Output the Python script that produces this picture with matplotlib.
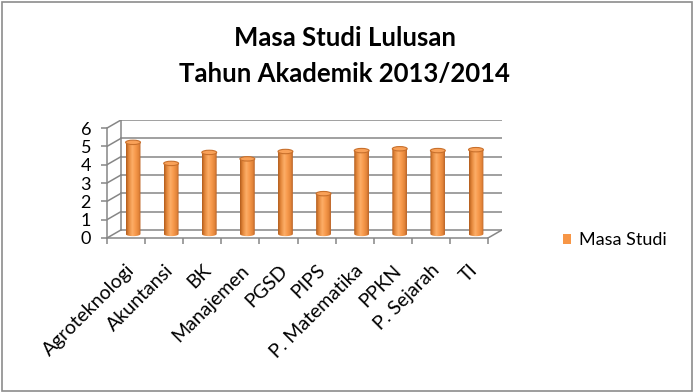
import numpy as np
import matplotlib
matplotlib.use('Agg')
import matplotlib.pyplot as plt
from matplotlib.colors import LinearSegmentedColormap
from matplotlib.patches import Ellipse, Patch, Rectangle
from matplotlib.path import Path
from matplotlib.patches import PathPatch

# data
prodi = ['Agroteknologi', 'Akuntansi', 'BK', 'Manajemen', 'PGSD', 'PIPS',
         'P. Matematika', 'PPKN', 'P. Sejarah', 'TI']
masa_studi = [5.0, 3.85, 4.45, 4.1, 4.5, 2.2, 4.55, 4.65, 4.55, 4.6]
y_ticks = [0, 1, 2, 3, 4, 5, 6]
series_name = 'Masa Studi'

plt.rcParams['font.family'] = ['Lato', 'DejaVu Sans']

fig = plt.figure(figsize=(6.94, 3.92), dpi=100)
# chart border
fig.patches.append(Rectangle((2 / 694, 1 / 392), 690 / 694, 389 / 392, transform=fig.transFigure,
                             fill=False, edgecolor='#8c8c8c', linewidth=1.2))

fig.text(0.497, 1 - 46 / 392, 'Masa Studi Lulusan', ha='center', va='baseline',
         fontsize=18.5, fontweight='bold')
fig.text(0.497, 1 - 82 / 392, 'Tahun Akademik 2013/2014', ha='center', va='baseline',
         fontsize=18.5, fontweight='bold')

ax = fig.add_axes([107 / 694, 1 - 238 / 392, 395 / 694, 118 / 392])
ax.patch.set_visible(False)

# fake 3d depth (in data units)
dx = 0.367
dy = 0.44
grid_col = '#868686'
n = len(prodi)
x0, x1 = -0.5, n - 0.5

# back wall + left wall lines
for v in y_ticks:
    ax.plot([x0 + dx, x1 + dx], [v + dy, v + dy], color=grid_col, lw=1.1, zorder=1)
    ax.plot([x0, x0 + dx], [v, v + dy], color=grid_col, lw=1.1, zorder=1)
ax.plot([x0 + dx, x0 + dx], [dy, y_ticks[-1] + dy], color=grid_col, lw=1.1, zorder=1)
# floor right edge
ax.plot([x1, x1 + dx], [0, dy], color=grid_col, lw=1.1, zorder=1)

# cylinder colours
cyl_cmap = LinearSegmentedColormap.from_list('cyl', [
    (0.0, '#b25c1c'), (0.18, '#e3873b'), (0.42, '#fdae68'),
    (0.62, '#f89b4e'), (0.85, '#e4853a'), (1.0, '#b9652a')])
grad = np.linspace(0, 1, 64)[None, :]

bar_w = 0.39
ell_h = 0.24
for i, v in enumerate(masa_studi):
    xc = i + dx / 2
    base = dy / 2
    top = v + dy / 2
    # body with rounded bottom
    t = np.linspace(np.pi, 2 * np.pi, 30)
    verts = list(zip(xc + bar_w / 2 * np.cos(t), base + ell_h / 2 * np.sin(t)))
    verts += [(xc + bar_w / 2, top), (xc - bar_w / 2, top), verts[0]]
    body = Path(verts)
    clip = PathPatch(body, transform=ax.transData, facecolor='none', edgecolor='none')
    ax.add_patch(clip)
    im = ax.imshow(grad, extent=(xc - bar_w / 2, xc + bar_w / 2, base - ell_h, top),
                   cmap=cyl_cmap, aspect='auto', interpolation='bilinear', zorder=3)
    im.set_clip_path(clip)
    ax.add_patch(Ellipse((xc, top), bar_w, ell_h, facecolor='#f9a158',
                         edgecolor='#c8702c', linewidth=0.8, zorder=4))

ax.set_xlim(x0, x1 + dx)
ax.set_ylim(0, y_ticks[-1] + dy)

# axes
for s in ['top', 'right']:
    ax.spines[s].set_visible(False)
ax.spines['left'].set_bounds(0, y_ticks[-1])
ax.spines['bottom'].set_bounds(x0, x1)
ax.spines['left'].set_color(grid_col)
ax.spines['bottom'].set_color(grid_col)
ax.spines['left'].set_linewidth(1.1)
ax.spines['bottom'].set_linewidth(1.1)

ax.set_yticks(y_ticks)
ax.set_yticklabels([str(v) for v in y_ticks], fontsize=13)
ax.tick_params(axis='y', length=4.5, width=1.1, color=grid_col, pad=7)

ax.set_xticks(range(n))
ax.set_xticklabels(prodi, fontsize=14, rotation=45, ha='right', rotation_mode='anchor')
ax.set_xticks(np.arange(n + 1) - 0.5, minor=True)
ax.tick_params(axis='x', which='major', length=0, pad=17)
ax.tick_params(axis='x', which='minor', length=4.5, width=1.1, color=grid_col)

fig.legend(handles=[Patch(facecolor='#f79646')], labels=[series_name],
           loc='center left', bbox_to_anchor=(563 / 694, 1 - 240.5 / 392),
           frameon=False, fontsize=13, handlelength=0.45, handleheight=0.45,
           handletextpad=0.45, borderpad=0, borderaxespad=0)

fig.savefig('out.png', dpi=100)
